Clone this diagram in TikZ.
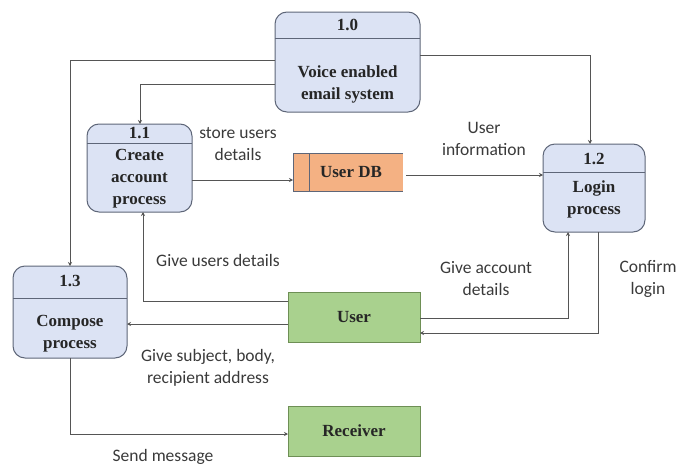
\documentclass[tikz,border=0pt]{standalone}
\usepackage{fontspec}
\setmainfont{Liberation Serif}
\newfontfamily\labelfont{Carlito}
\usetikzlibrary{arrows.meta,positioning}
\definecolor{procfill}{HTML}{DCE3F4}
\definecolor{procline}{HTML}{5E6678}
\definecolor{dbfill}{HTML}{F4B183}
\definecolor{entfill}{HTML}{A9D18E}
\definecolor{entline}{HTML}{6E8F55}
\definecolor{flow}{HTML}{555555}
\definecolor{labtext}{HTML}{3A3A3A}
\tikzset{
  proc/.style={draw=procline, fill=procfill, rounded corners=12pt, line width=1pt},
  divider/.style={draw=procline, line width=1pt},
  ptext/.style={font=\bfseries\fontsize{17}{22}\selectfont, align=center, text=black!85},
  entity/.style={draw=entline, fill=entfill, line width=1pt, minimum width=132pt, minimum height=50pt, font=\bfseries\fontsize{17}{22}\selectfont, text=black!85},
  flowline/.style={draw=flow, line width=0.9pt, -{Stealth[length=4pt,width=4pt]}},
  lab/.style={font=\labelfont\fontsize{17.5}{22}\selectfont, align=center, text=labtext}
}
\begin{document}
\begin{tikzpicture}[x=1pt,y=-1pt]
\useasboundingbox (0,0) rectangle (677,466);

% process 1.0
\draw[proc] (275,12) rectangle (420,112);
\draw[divider] (275,38) -- (420,38);
\node[ptext] (p0id) at (347.5,25) {1.0};
\node[ptext] (p0) at (347.5,84) {Voice enabled\\email system};
\coordinate (p0w1) at (275,60);
\coordinate (p0w2) at (275,84);
\coordinate (p0e) at (420,55);

% process 1.1
\draw[proc] (87,124) rectangle (192,212);
\draw[divider] (87,143) -- (192,143);
\node[ptext] (p1id) at (139.5,133) {1.1};
\node[ptext] (p1) at (139.5,179) {Create\\account\\process};

% process 1.2
\draw[proc] (543,144) rectangle (645,232);
\draw[divider] (543,172) -- (645,172);
\node[ptext] (p2id) at (594,159) {1.2};
\node[ptext] (p2) at (594,199) {Login\\process};

% process 1.3
\draw[proc] (13,266) rectangle (127,358);
\draw[divider] (13,298) -- (127,298);
\node[ptext] (p3id) at (70,281) {1.3};
\node[ptext] (p3) at (70,334) {Compose\\process};

% data store
\fill[dbfill] (293,153) rectangle (403,191);
\draw[procline, line width=1pt] (403,153) -- (293,153) -- (293,191) -- (403,191);
\draw[procline, line width=1pt] (309,153) -- (309,191);
\node[ptext] (db) at (351,172) {User DB};
\coordinate (dbw) at (293,180);
\coordinate (dbe) at (406,175);

% external entities
\node[entity] (user) at (354,317) {User};
\node[entity] (recv) at (354,431) {Receiver};

% data flows
\draw[flowline] (p0w2) -| (140,124);
\draw[flowline] (p0w1) -| (70,266);
\draw[flowline] (p0e) -| (590,144);
\draw[flowline] (192,180) -- (dbw);
\draw[flowline] (dbe) -- (543,175);
\draw[flowline] (288,301) -| (143,212);
\draw[flowline] (288,324) -- (127,324);
\draw[flowline] (420,318) -| (568,232);
\draw[flowline] (598,232) |- (420,333);
\draw[flowline] (70,358) |- (288,434);

% flow labels
\node[lab] (l1) at (238,144) {store users\\details};
\node[lab] (l2) at (484,139) {User\\information};
\node[lab] (l3) at (218,260) {Give users details};
\node[lab] (l4) at (486,279) {Give account\\details};
\node[lab] (l5) at (648,279) {Confirm\\login};
\node[lab] (l6) at (208,368) {Give subject, body,\\recipient address};
\node[lab] (l7) at (163,457) {Send message};
\end{tikzpicture}
\end{document}
